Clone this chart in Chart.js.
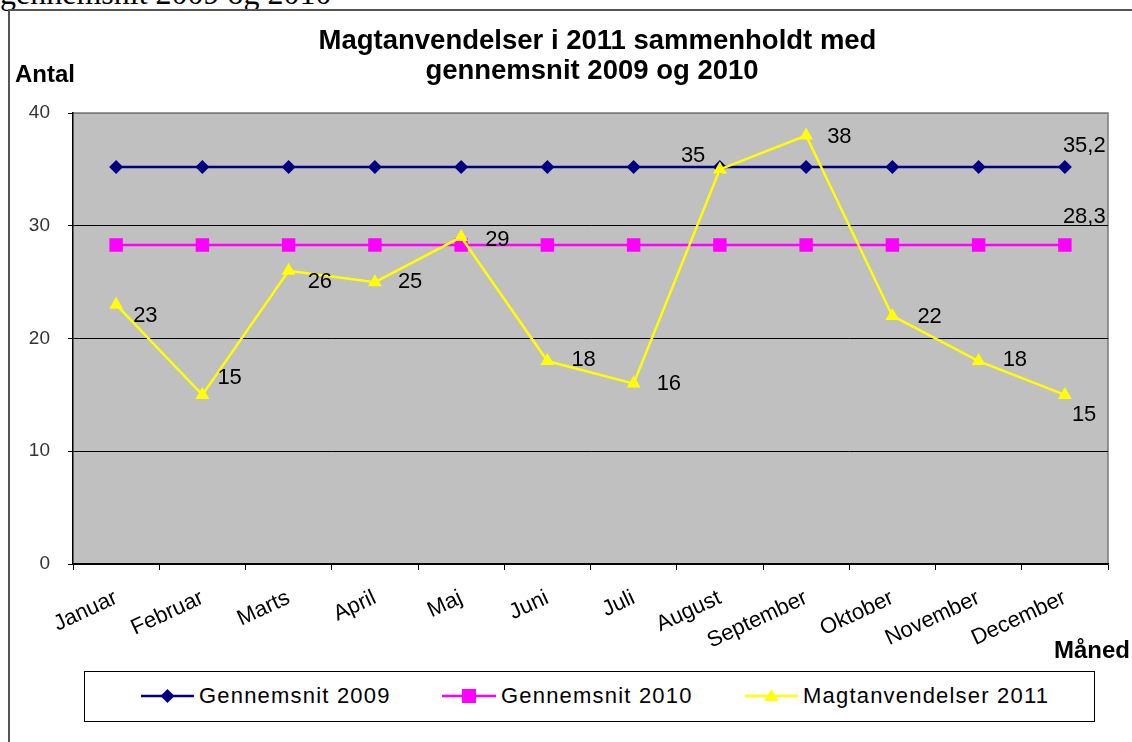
<!DOCTYPE html>
<html><head><meta charset="utf-8">
<script src="https://cdn.jsdelivr.net/npm/chart.js@4.4.1/dist/chart.umd.min.js"></script>
<style>
html,body{margin:0;padding:0;width:1132px;height:742px;overflow:hidden;background:#fff;font-family:Arial,"Liberation Sans",sans-serif;}
#cut{position:absolute;left:0;top:-23px;font-family:"Liberation Serif","Times New Roman",serif;font-size:32px;line-height:32px;white-space:nowrap;color:#000;}
#frame{position:absolute;left:8px;top:9px;width:1200px;height:800px;border:2px solid #555;box-sizing:border-box;}
#c{position:absolute;left:0;top:0;}
.t{position:absolute;white-space:nowrap;font-weight:bold;color:#000;}
#title1{left:0;width:1195px;text-align:center;top:25px;font-size:27.5px;line-height:29px;}
#title2{left:0;width:1184px;text-align:center;top:55px;font-size:27.5px;line-height:29px;}
#antal{left:15px;top:60px;font-size:24px;}
#maned{left:1054px;top:636px;font-size:24px;}
#legend{position:absolute;left:84px;top:671px;width:1011px;height:51px;border:1.5px solid #000;box-sizing:border-box;background:#fff;}
.li{position:absolute;top:0;height:48px;display:flex;align-items:center;font-size:22px;color:#000;letter-spacing:1.2px;}
.li svg{display:block;margin-right:5px;}
</style></head>
<body>
<div id="cut">gennemsnit 2009 og 2010</div>
<div id="frame"></div>
<canvas id="c" width="1132" height="742"></canvas>
<div class="t" id="title1">Magtanvendelser i 2011 sammenholdt med</div>
<div class="t" id="title2">gennemsnit 2009 og 2010</div>
<div class="t" id="antal">Antal</div>
<div class="t" id="maned">Måned</div>
<div id="legend">
  <div class="li" style="left:56px"><svg width="53" height="20"><line x1="0" y1="10" x2="53" y2="10" stroke="#000080" stroke-width="2.5"/><polygon points="26.5,3 33.5,10 26.5,17 19.5,10" fill="#000080"/></svg>Gennemsnit 2009</div>
  <div class="li" style="left:357px"><svg width="54" height="20"><line x1="0" y1="10" x2="54" y2="10" stroke="#FF00FF" stroke-width="2.5"/><rect x="20" y="3" width="14" height="14" fill="#FF00FF"/></svg>Gennemsnit 2010</div>
  <div class="li" style="left:660px"><svg width="53" height="20"><line x1="0" y1="10" x2="53" y2="10" stroke="#FFFF00" stroke-width="2.5"/><polygon points="26.5,3 33.5,15 19.5,15" fill="#FFFF00"/></svg>Magtanvendelser 2011</div>
</div>
<script>
const months = ['Januar','Februar','Marts','April','Maj','Juni','Juli','August','September','Oktober','November','December'];
const avg2009 = [35.2,35.2,35.2,35.2,35.2,35.2,35.2,35.2,35.2,35.2,35.2,35.2];
const avg2010 = [28.3,28.3,28.3,28.3,28.3,28.3,28.3,28.3,28.3,28.3,28.3,28.3];
const mag2011 = [23,15,26,25,29,18,16,35,38,22,18,15];
const yTicks = [0,10,20,30,40];

// label placement: [pointIndex, dx (left edge), dy (center)] per dataset
const labelPlacement2009 = [[11,-2,-21]];
const labelPlacement2010 = [[11,-2,-28]];
const labelPlacement2011 = [[0,17,11],[1,15,-17],[2,19,11],[3,23,0],[4,24,3],[5,24,-1],[6,23,0],[7,-39,-13],[8,21,1],[9,25,1],[10,24,-1],[11,7,20]];

const bgPlugin = {
  id:'plotBg',
  beforeDraw(chart){
    const {ctx, chartArea:a} = chart;
    ctx.save();
    ctx.fillStyle = '#C0C0C0';
    ctx.fillRect(a.left, a.top, a.right-a.left, a.bottom-a.top);
    ctx.strokeStyle = '#7a7a7a';
    ctx.lineWidth = 1.5;
    ctx.beginPath();
    ctx.moveTo(a.left, a.top); ctx.lineTo(a.right, a.top); ctx.lineTo(a.right, a.bottom);
    ctx.stroke();
    ctx.restore();
  }
};
const labelPlugin = {
  id:'pointLabels',
  afterDatasetsDraw(chart){
    const ctx = chart.ctx;
    ctx.save();
    ctx.font = '22px Arial, "Liberation Sans", sans-serif';
    ctx.fillStyle = '#000';
    ctx.textAlign = 'left';
    ctx.textBaseline = 'middle';
    chart.data.datasets.forEach((ds, di) => {
      const meta = chart.getDatasetMeta(di);
      (ds.labelPlacement || []).forEach(([i, dx, dy]) => {
        const el = meta.data[i];
        const txt = String(ds.data[i]).replace('.', ',');
        ctx.fillText(txt, el.x + dx, el.y + dy);
      });
    });
    ctx.restore();
  }
};

new Chart(document.getElementById('c'), {
  type:'line',
  data:{
    labels: months,
    datasets:[
      {label:'Gennemsnit 2009', data:avg2009, borderColor:'#000080', backgroundColor:'#000080', borderWidth:2.5,
       pointStyle:'rectRot', pointRadius:7, pointBorderWidth:0, order:3, labelPlacement:labelPlacement2009},
      {label:'Gennemsnit 2010', data:avg2010, borderColor:'#FF00FF', backgroundColor:'#FF00FF', borderWidth:2.5,
       pointStyle:'rect', pointRadius:9.5, pointBorderWidth:0, order:2, labelPlacement:labelPlacement2010},
      {label:'Magtanvendelser 2011', data:mag2011, borderColor:'#FFFF00', backgroundColor:'#FFFF00', borderWidth:2.5,
       pointStyle:'triangle', pointRadius:8, pointBorderWidth:0, order:1, labelPlacement:labelPlacement2011}
    ]
  },
  options:{
    responsive:false,
    animation:false,
    events:[],
    layout:{padding:{left:0, top:113, right:24, bottom:0}},
    plugins:{legend:{display:false}, title:{display:false}, tooltip:{enabled:false}},
    scales:{
      x:{
        offset:true,
        grid:{display:true, offset:true, drawOnChartArea:false, drawTicks:true, tickLength:6, color:'#000', tickColor:'#000'},
        border:{display:true, color:'#000', width:1.5},
        ticks:{color:'#000', font:{size:22, family:'Arial, "Liberation Sans", sans-serif'}, minRotation:25, maxRotation:25, padding:15, autoSkip:false},
        afterFit(s){ s.height = 178; }
      },
      y:{
        min:0, max:40,
        afterBuildTicks(s){ s.ticks = yTicks.map(v => ({value:v})); },
        grid:{color:(c)=> c.tick && c.tick.value===40 ? '#7a7a7a' : '#000', tickColor:'#000', tickLength:5, lineWidth:1},
        border:{display:true, color:'#000', width:1.5},
        ticks:{color:'#333', font:{size:19, family:'Arial, "Liberation Sans", sans-serif'}, padding:18},
        afterFit(s){ s.width = 73; }
      }
    }
  },
  plugins:[bgPlugin, labelPlugin]
});
</script>
</body></html>
